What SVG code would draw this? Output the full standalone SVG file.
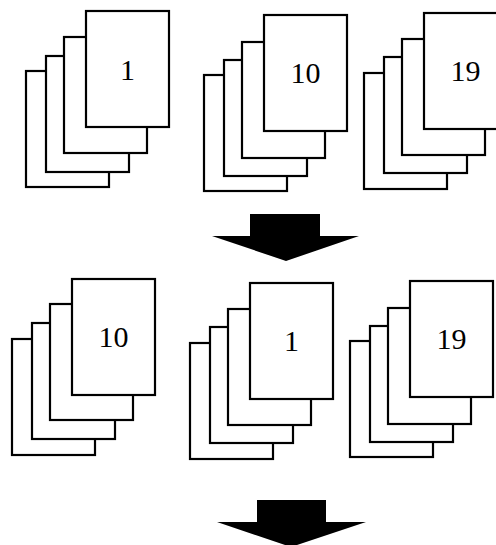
<svg xmlns="http://www.w3.org/2000/svg" width="496" height="545" viewBox="0 0 496 545">
<style>
.pg{fill:#fff;stroke:#000;stroke-width:2.2}
.lbl{font-family:"Liberation Serif","Times New Roman",serif;font-size:30px;fill:#000;text-anchor:middle}
.arr{fill:#000}
</style>
<rect width="496" height="545" fill="#fff"/>
<g id="stack1">
<rect class="pg" x="26" y="71" width="83" height="116"/>
<rect class="pg" x="46" y="56" width="83" height="116"/>
<rect class="pg" x="64" y="37" width="83" height="116"/>
<rect class="pg" x="86" y="11" width="83" height="116"/>
<text class="lbl" x="127.5" y="80">1</text>
</g>
<g id="stack2">
<rect class="pg" x="204" y="75" width="83" height="116"/>
<rect class="pg" x="224" y="60" width="83" height="116"/>
<rect class="pg" x="242" y="42" width="83" height="116"/>
<rect class="pg" x="264" y="15" width="83" height="116"/>
<text class="lbl" x="305.5" y="83">10</text>
</g>
<g id="stack3">
<rect class="pg" x="364" y="73" width="83" height="116"/>
<rect class="pg" x="384" y="57" width="83" height="116"/>
<rect class="pg" x="402" y="39" width="83" height="116"/>
<rect class="pg" x="424" y="13" width="83" height="116"/>
<text class="lbl" x="465.5" y="81">19</text>
</g>
<g id="stack4">
<rect class="pg" x="12" y="339" width="83" height="116"/>
<rect class="pg" x="32" y="323" width="83" height="116"/>
<rect class="pg" x="50" y="304" width="83" height="116"/>
<rect class="pg" x="72" y="279" width="83" height="116"/>
<text class="lbl" x="113.5" y="347">10</text>
</g>
<g id="stack5">
<rect class="pg" x="190" y="343" width="83" height="116"/>
<rect class="pg" x="210" y="327" width="83" height="116"/>
<rect class="pg" x="228" y="309" width="83" height="116"/>
<rect class="pg" x="250" y="283" width="83" height="116"/>
<text class="lbl" x="291.5" y="351">1</text>
</g>
<g id="stack6">
<rect class="pg" x="350" y="341" width="83" height="116"/>
<rect class="pg" x="370" y="326" width="83" height="116"/>
<rect class="pg" x="388" y="308" width="83" height="116"/>
<rect class="pg" x="410" y="281" width="83" height="116"/>
<text class="lbl" x="451.5" y="349">19</text>
</g>
<g id="connectors">
<polygon class="arr" points="250,214 320,214 320,236 359,236 286,261 212,236 250,236"/>
<polygon class="arr" points="257,500 326,500 326,522 366,522 291,547 217,522 257,522"/>
</g>
</svg>
